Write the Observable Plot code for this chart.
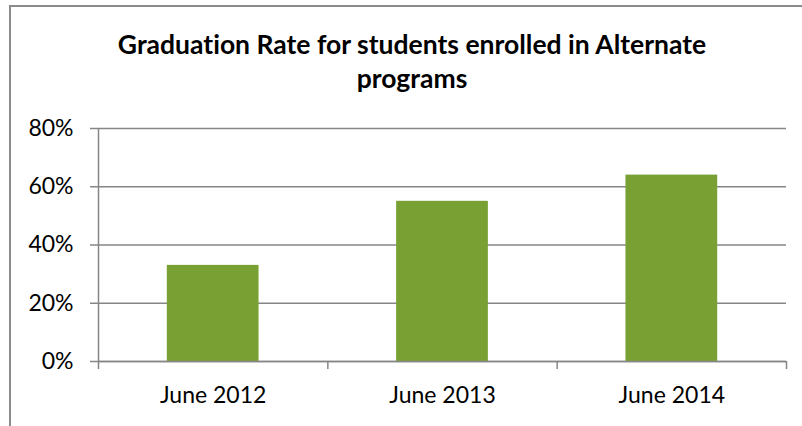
<!DOCTYPE html>
<html>
<head>
<meta charset="utf-8">
<script src="https://cdn.jsdelivr.net/npm/d3@7"></script>
<script src="https://cdn.jsdelivr.net/npm/@observablehq/plot@0.6"></script>
<style>
  html, body { margin: 0; padding: 0; background: #fff; }
  #wrap { position: relative; width: 802px; height: 426px; overflow: hidden; background: #fff; font-family: Lato, "Noto Sans", sans-serif; font-variant-ligatures: none; }
  #frame { position: absolute; left: 9px; top: 5px; width: 820px; height: 440px; border-left: 2px solid #8c8c8c; border-top: 2px solid #8c8c8c; box-sizing: border-box; pointer-events: none; }
  #title { height: 106px; box-sizing: border-box; padding-top: 27px; padding-left: 22px; text-align: center; font-weight: bold; font-size: 26.5px; line-height: 34px; color: #000; }
  #chart svg { display: block; color: #000; font-variant-ligatures: none; }
</style>
</head>
<body>
<div id="wrap">
  <div id="title">Graduation Rate for students enrolled in Alternate<br>programs</div>
  <div id="chart"></div>
  <div id="frame"></div>
</div>
<script>
const categories = ["June 2012", "June 2013", "June 2014"];
const rates = [0.33, 0.55, 0.64];
const yTicks = [0, 0.2, 0.4, 0.6, 0.8];

const data = categories.map((c, i) => ({i, category: c, value: rates[i]}));
const boundaries = [-0.5, 0.5, 1.5, 2.5];
const gray = "#868686";

const plot = Plot.plot({
  width: 802,
  height: 320,
  marginTop: 22,
  marginBottom: 65,
  marginLeft: 98,
  marginRight: 16,
  style: {fontFamily: "Lato, 'Noto Sans', sans-serif", color: "#000", background: "#fff"},
  x: {type: "linear", domain: [-0.5, 2.5]},
  y: {domain: [0, 0.8]},
  marks: [
    Plot.gridY(yTicks, {stroke: gray, strokeOpacity: 1, strokeWidth: 1.5}),
    Plot.rect(data, {x1: d => d.i - 0.2, x2: d => d.i + 0.2, y1: 0, y2: "value", fill: "#78A033"}),
    Plot.ruleX([-0.5], {y1: 0, y2: 0.8, stroke: gray, strokeWidth: 1.5}),
    Plot.ruleY([0], {stroke: gray, strokeWidth: 1.5}),
    Plot.axisY(yTicks, {tickFormat: d3.format(".0%"), tickSize: 8, tickPadding: 17, fontSize: 23, stroke: gray, strokeWidth: 1.5, fill: "#000", label: null}),
    Plot.axisX(boundaries, {tickSize: 8, tickFormat: () => "", stroke: gray, strokeWidth: 1.5, label: null}),
    Plot.axisX([0, 1, 2], {tickSize: 0, tickPadding: 25, tickFormat: i => categories[i], fontSize: 23, fill: "#000", label: null})
  ]
});
document.getElementById("chart").appendChild(plot);
</script>
</body>
</html>
